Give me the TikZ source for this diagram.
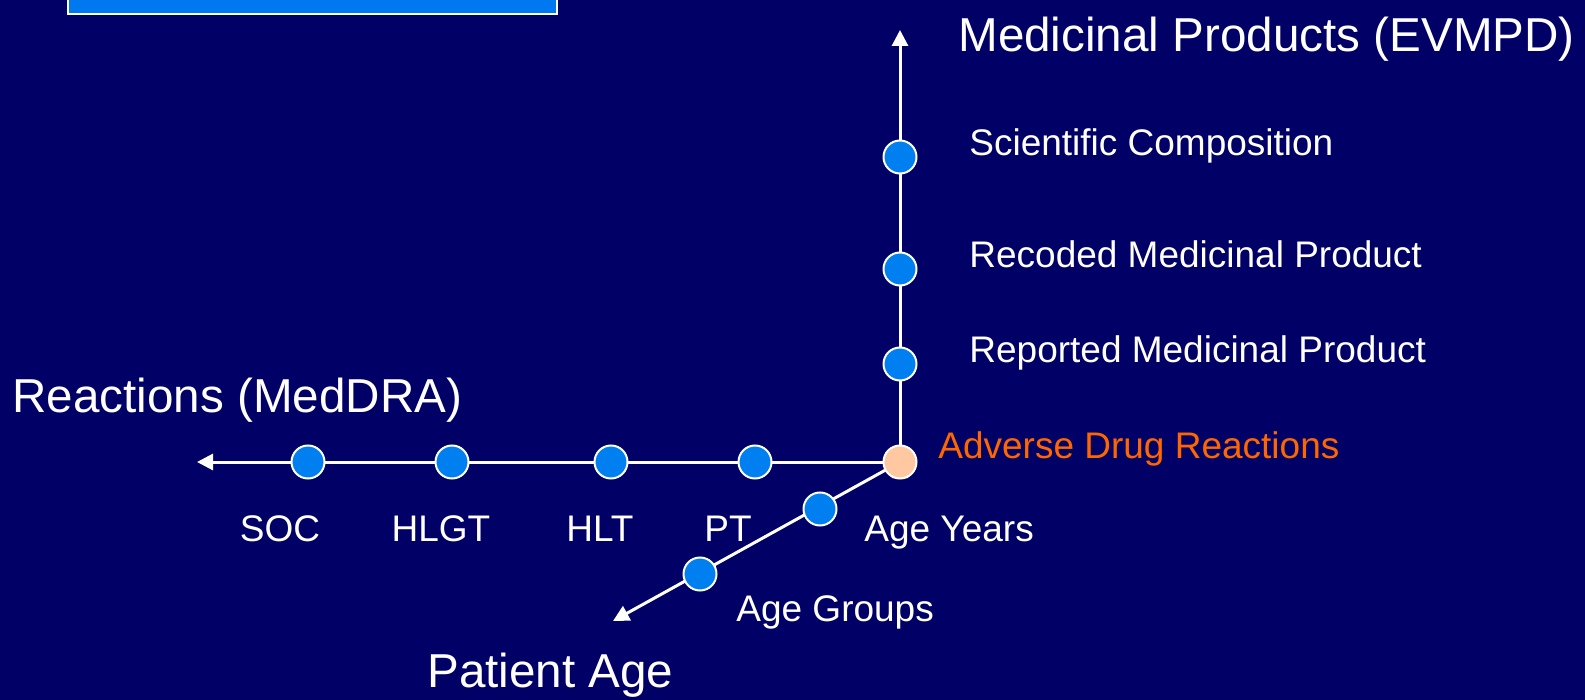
\documentclass[tikz,border=0pt]{standalone}
\usepackage{fontspec}
\setmainfont{Liberation Sans}
\usetikzlibrary{positioning,arrows.meta}
\definecolor{slidebg}{RGB}{0,0,102}
\definecolor{boxblue}{RGB}{0,120,240}
\definecolor{dotblue}{RGB}{0,128,240}
\definecolor{peach}{RGB}{255,200,160}
\definecolor{adrorange}{RGB}{255,102,0}
\pgfdeclarelayer{back}
\pgfsetlayers{back,main}

\begin{document}
\begin{tikzpicture}[x=0.5pt, y=-0.5pt,
   dot/.style={circle, draw=white, line width=1pt, fill=dotblue, minimum size=16.5pt, inner sep=0pt},
   lbl/.style={text=white, inner sep=0pt, font=\fontsize{18.5}{22}\selectfont},
   axis/.style={text=white, inner sep=0pt, font=\fontsize{23.8}{28}\selectfont},
   >={Triangle[width=8pt,length=8pt,fill=white]}]

   \begin{pgfonlayer}{back}
   \fill[slidebg] (0,0) rectangle (1585,700);
   \useasboundingbox (0,0) rectangle (1585,700);
   \draw[white, line width=1pt, fill=boxblue] (67.7,-10) rectangle (557,13.7);
   \end{pgfonlayer}

   % points on the three axes
   \node[dot, fill=peach] (adr) at (900,462) {};
   \node[dot] (rep) at (900,364) {};
   \node[dot] (rec) at (900,269) {};
   \node[dot] (sci) at (900,157) {};
   \node[dot] (pt) at (755,462) {};
   \node[dot] (hlt) at (611,462) {};
   \node[dot] (hlgt) at (452,462) {};
   \node[dot] (soc) at (308,462) {};
   \node[dot] (years) at (820,509) {};
   \node[dot] (groups) at (700,574) {};
   \coordinate (medtip) at (900,30);
   \coordinate (reactip) at (197,462);
   \coordinate (agetip) at (613,621);

   \begin{pgfonlayer}{back}
   \path[->, draw=white, line width=1.5pt]
      (adr.center) edge (medtip)
      (adr.center) edge (reactip)
      (adr.center) edge (agetip);
   \end{pgfonlayer}

   % labels
   \node[axis, anchor=base west] (medlbl) at (958,52) {Medicinal Products (EVMPD)};
   \node[lbl, anchor=base west] (scilbl) at (969,156) {Scientific Composition};
   \node[lbl, anchor=base west] (reclbl) at (969,268) {Recoded Medicinal Product};
   \node[lbl, anchor=base west] (replbl) at (969,363) {Reported Medicinal Product};
   \node[lbl, anchor=base west, text=adrorange] (adrlbl) at (938,458) {Adverse Drug Reactions};
   \node[axis, anchor=base west] (reaclbl) at (12,412) {Reactions (MedDRA)};
   \node[lbl, anchor=base] (soclbl) at (280,541) {SOC};
   \node[lbl, anchor=base] (hlgtlbl) at (441,541) {HLGT};
   \node[lbl, anchor=base] (hltlbl) at (600,541) {HLT};
   \node[lbl, anchor=base] (ptlbl) at (728,541) {PT};
   \node[lbl, anchor=base west] (yearslbl) at (864,541) {Age Years};
   \node[lbl, anchor=base west] (groupslbl) at (736,621) {Age Groups};
   \node[axis, anchor=base west] (agelbl) at (427,687) {Patient Age};
\end{tikzpicture}
\end{document}
